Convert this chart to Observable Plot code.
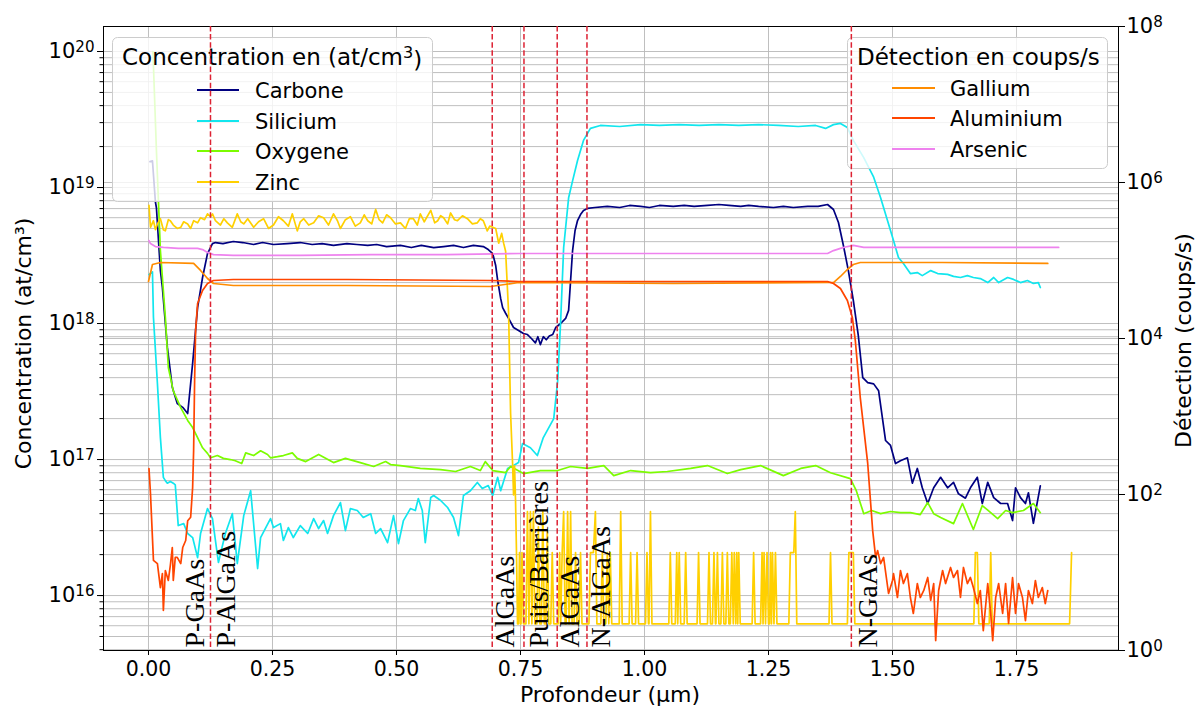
<!DOCTYPE html>
<html>
<head>
<meta charset="utf-8">
<script src="https://cdn.jsdelivr.net/npm/d3@7"></script>
<script src="https://cdn.jsdelivr.net/npm/@observablehq/plot@0.6"></script>
<style>
html,body{margin:0;padding:0;background:#fff;}
#chart{position:relative;width:1198px;height:707px;overflow:hidden;background:#fff;}
#chart > svg{position:absolute;left:0;top:0;}
</style>
</head>
<body>
<div id="chart"></div>
<script>
// ---------------- DATA ----------------
const xTicks = [0, 0.25, 0.5, 0.75, 1.0, 1.25, 1.5, 1.75];
const leftTicks = [1e16, 1e17, 1e18, 1e19, 1e20];
const rightTicks = [1, 1e2, 1e4, 1e6, 1e8];
const rightGrid = [1e2, 1e4, 1e6];

const layerBounds = [0.125, 0.693, 0.757, 0.824, 0.884, 1.417];
const layerNames = ["P-GaAs", "P-AlGaAs", "AlGaAs", "Puits/Barrières", "AlGaAs", "N-AlGaAs", "N-GaAs"];
const layerNameX = [0.071, 0.135, 0.696, 0.766, 0.827, 0.891, 1.429];

const leftNames = ["Carbone", "Silicium", "Oxygene", "Zinc"];
const rightNames = ["Gallium", "Aluminium", "Arsenic"];

const carbone = [
[0.003,1.55e19],[0.008,1.57e19],[0.014,7.8e18],[0.016,7.1e18],[0.024,2.45e18],[0.028,1.84e18],[0.038,6.7e17],[0.048,3.4e17],[0.058,2.58e17],[0.069,2.42e17],[0.079,2.18e17],[0.089,5.1e17],[0.099,1.31e18],[0.109,2.18e18],[0.119,3.27e18],[0.129,3.87e18],
[0.135,3.94e18],[0.150,3.87e18],[0.171,4.01e18],[0.190,3.94e18],[0.212,3.81e18],[0.230,3.94e18],[0.252,3.81e18],[0.280,3.87e18],[0.306,3.94e18],[0.330,3.81e18],[0.350,3.87e18],[0.373,3.75e18],[0.400,3.87e18],[0.420,3.81e18],[0.442,3.75e18],[0.460,3.81e18],[0.480,3.68e18],[0.508,3.75e18],[0.530,3.62e18],[0.550,3.75e18],[0.575,3.62e18],[0.595,3.68e18],[0.615,3.75e18],[0.635,3.62e18],[0.655,3.75e18],[0.675,3.68e18],[0.685,3.5e18],
[0.694,3.27e18],[0.700,2.67e18],[0.704,2.07e18],[0.710,1.53e18],[0.714,1.31e18],[0.720,1.19e18],[0.726,1.09e18],[0.736,9.35e17],[0.746,8.9e17],[0.756,8.44e17],[0.764,8.3e17],[0.772,7.76e17],[0.780,7.2e17],[0.785,8.0e17],[0.790,7.0e17],[0.796,8.0e17],[0.802,7.6e17],[0.808,8.1e17],[0.815,8.3e17],[0.821,9.35e17],[0.831,1.0e18],[0.841,1.09e18],[0.847,1.25e18],[0.851,2.07e18],[0.855,3.44e18],[0.860,4.83e18],[0.865,5.72e18],[0.871,6.33e18],[0.877,6.78e18],[0.885,7.02e18],[0.900,7.13e18],
[0.925,7.26e18],[0.950,7.13e18],[0.970,7.38e18],[0.992,7.26e18],[1.010,7.13e18],[1.030,7.38e18],[1.058,7.26e18],[1.080,7.38e18],[1.100,7.26e18],[1.127,7.38e18],[1.150,7.5e18],[1.170,7.38e18],[1.194,7.26e18],[1.210,7.38e18],[1.230,7.26e18],[1.260,7.13e18],[1.280,7.26e18],[1.300,7.13e18],[1.329,7.26e18],[1.350,7.26e18],[1.369,7.5e18],
[1.381,6.89e18],[1.391,5.53e18],[1.401,3.75e18],[1.411,2.45e18],[1.421,1.48e18],[1.431,8.17e17],[1.440,4.0e17],[1.450,3.68e17],[1.462,3.6e17],[1.472,3.2e17],[1.486,1.38e17],[1.496,1.27e17],[1.506,9.35e16],[1.516,9.8e16],[1.530,1.03e17],[1.540,6.7e16],[1.550,8.6e16],[1.560,6.2e16],[1.571,4.75e16],[1.583,6.2e16],[1.597,7.4e16],[1.611,6.2e16],[1.623,6.8e16],[1.633,5.6e16],[1.647,5.2e16],[1.657,6.2e16],[1.671,7.4e16],[1.681,4.75e16],[1.692,6.8e16],[1.704,5.25e16],[1.718,4.75e16],[1.732,4.75e16],[1.742,3.56e16],[1.748,6.2e16],[1.758,5.25e16],[1.768,4.75e16],[1.774,5.7e16],[1.784,3.4e16],[1.798,6.4e16]
];

const silicium = [
[0.001,2.29e18],[0.008,2.4e18],[0.010,1.11e18],[0.018,3.62e17],[0.024,1.45e17],[0.030,7.4e16],[0.034,7.0e16],[0.038,6.7e16],[0.044,6.9e16],[0.050,6.7e16],[0.054,6.5e16],[0.060,3.27e16],[0.071,3.38e16],[0.079,2.86e16],[0.089,2.67e16],[0.099,1.9e16],[0.105,2.86e16],[0.119,4.36e16],[0.129,3.68e16],[0.141,1.75e16],[0.155,2.86e16],[0.169,4.0e16],[0.179,1.72e16],[0.192,3.87e16],[0.206,5.9e16],[0.220,1.58e16],[0.226,2.67e16],[0.246,3.68e16],[0.252,3.16e16],[0.266,3.38e16],[0.272,2.54e16],[0.282,3.16e16],[0.292,2.67e16],[0.306,3.27e16],[0.321,2.86e16],[0.333,3.68e16],[0.343,3.11e16],[0.353,3.56e16],[0.361,2.86e16],[0.373,3.87e16],[0.387,4.83e16],[0.397,3.0e16],[0.407,4.36e16],[0.421,4.22e16],[0.433,3.75e16],[0.448,4.0e16],[0.458,2.86e16],[0.468,3.11e16],[0.482,2.45e16],[0.494,3.87e16],[0.504,2.41e16],[0.514,3.56e16],[0.528,4.36e16],[0.538,4.22e16],[0.544,5.17e16],[0.552,4.22e16],[0.558,2.45e16],[0.569,5.26e16],[0.575,5.44e16],[0.589,5.0e16],[0.603,4.44e16],[0.615,3.75e16],[0.625,2.76e16],[0.635,5.44e16],[0.649,5.9e16],[0.663,6.78e16],[0.673,6.12e16],[0.685,6.44e16],[0.694,5.44e16],[0.704,7.4e16],[0.710,5.9e16],[0.724,8.6e16],[0.736,9.03e16],[0.746,9.5e16],[0.754,1.31e17],[0.770,1.22e17],[0.784,1.07e17],[0.796,1.45e17],[0.817,2.0e17],[0.825,3.81e17],[0.831,1.05e18],[0.837,3.62e18],[0.847,8.4e18],[0.855,1.12e19],[0.865,1.58e19],[0.877,2.22e19],[0.891,2.72e19],[0.911,2.86e19],[0.950,2.81e19],[0.992,2.9e19],[1.030,2.86e19],[1.070,2.9e19],[1.110,2.86e19],[1.150,2.9e19],[1.190,2.86e19],[1.230,2.9e19],[1.270,2.86e19],[1.310,2.81e19],[1.345,2.86e19],[1.365,2.72e19],[1.381,2.9e19],[1.395,2.96e19],[1.409,2.76e19],[1.421,2.22e19],[1.442,1.66e19],[1.462,1.19e19],[1.476,8.4e18],[1.490,5.7e18],[1.502,4.07e18],[1.512,3.06e18],[1.522,2.76e18],[1.536,2.33e18],[1.550,2.37e18],[1.560,2.25e18],[1.577,2.45e18],[1.591,2.33e18],[1.611,2.3e18],[1.623,2.22e18],[1.637,2.18e18],[1.651,2.25e18],[1.663,2.18e18],[1.677,2.14e18],[1.692,2.0e18],[1.704,2.18e18],[1.714,2.0e18],[1.732,2.18e18],[1.744,2.11e18],[1.758,2.0e18],[1.772,2.07e18],[1.784,1.97e18],[1.794,2.0e18],[1.798,1.84e18]
];

const oxygene = [
[0.009,1.0e20],[0.016,1.87e19],[0.020,8.0e18],[0.024,3.44e18],[0.034,1.11e18],[0.040,4.75e17],[0.050,3.2e17],[0.065,2.41e17],[0.079,1.94e17],[0.089,1.72e17],[0.099,1.45e17],[0.109,1.22e17],[0.119,1.11e17],[0.125,1.03e17],[0.139,1.07e17],[0.151,1.02e17],[0.165,1.0e17],[0.175,9.8e16],[0.188,9.35e16],[0.196,1.12e17],[0.212,1.07e17],[0.226,1.16e17],[0.240,1.09e17],[0.246,1.03e17],[0.260,1.05e17],[0.272,1.07e17],[0.290,1.12e17],[0.300,1.02e17],[0.317,9.66e16],[0.343,1.09e17],[0.373,9.5e16],[0.397,1.02e17],[0.427,9.5e16],[0.454,8.89e16],[0.478,9.66e16],[0.488,9.18e16],[0.508,9.03e16],[0.548,8.6e16],[0.589,8.43e16],[0.619,8.17e16],[0.649,8.89e16],[0.669,8.3e16],[0.679,9.66e16],[0.694,8.3e16],[0.720,8.02e16],[0.730,8.89e16],[0.756,7.89e16],[0.790,8.3e16],[0.825,8.3e16],[0.851,8.89e16],[0.885,8.6e16],[0.918,9.03e16],[0.938,7.62e16],[0.972,8.3e16],[1.012,8.02e16],[1.046,8.17e16],[1.093,8.6e16],[1.127,9.03e16],[1.167,7.89e16],[1.194,8.43e16],[1.234,9.03e16],[1.280,7.62e16],[1.315,8.6e16],[1.345,9.03e16],[1.375,8.0e16],[1.415,7.24e16],[1.427,5.9e16],[1.442,4.0e16],[1.458,4.22e16],[1.476,4.0e16],[1.496,4.15e16],[1.516,4.07e16],[1.536,4.07e16],[1.556,3.94e16],[1.571,4.83e16],[1.583,4.0e16],[1.597,3.75e16],[1.623,3.38e16],[1.641,4.75e16],[1.663,3.06e16],[1.681,4.59e16],[1.698,4.07e16],[1.712,3.68e16],[1.728,4.22e16],[1.742,4.07e16],[1.764,4.22e16],[1.784,4.75e16],[1.798,4.07e16]
];

const zinc = [
[0.001,7.4e18],[0.004,5.1e18],[0.010,5.7e18],[0.014,4.9e18],[0.018,5.4e18],[0.024,5.9e18],[0.030,4.9e18],[0.034,4.8e18],[0.040,5.8e18],[0.044,5.7e18],[0.050,5.3e18],[0.058,5.0e18],[0.065,5.1e18],[0.071,5.6e18],[0.079,5.4e18],[0.085,5.0e18],[0.091,5.7e18],[0.099,5.5e18],[0.105,6.0e18],[0.113,5.8e18],[0.119,6.4e18],[0.125,6.1e18],[0.129,6.4e18],[0.135,5.7e18],[0.145,5.3e18],[0.152,5.9e18],[0.159,5.5e18],[0.169,5.1e18],[0.179,6.4e18],[0.186,5.6e18],[0.192,5.4e18],[0.200,5.9e18],[0.212,5.1e18],[0.222,5.6e18],[0.232,5.9e18],[0.242,5.0e18],[0.252,5.3e18],[0.262,6.1e18],[0.272,5.7e18],[0.282,5.2e18],[0.290,6.4e18],[0.300,4.8e18],[0.306,5.6e18],[0.313,5.9e18],[0.323,5.3e18],[0.333,5.5e18],[0.343,6.2e18],[0.353,6.0e18],[0.363,5.3e18],[0.373,6.4e18],[0.381,5.7e18],[0.387,5.0e18],[0.397,5.8e18],[0.407,6.1e18],[0.417,5.2e18],[0.427,5.5e18],[0.435,6.3e18],[0.442,5.7e18],[0.450,5.4e18],[0.458,6.9e18],[0.465,5.8e18],[0.472,5.5e18],[0.480,6.3e18],[0.488,6.0e18],[0.498,5.4e18],[0.508,5.5e18],[0.518,5.0e18],[0.526,5.9e18],[0.534,5.9e18],[0.542,5.3e18],[0.548,6.4e18],[0.556,5.6e18],[0.569,6.8e18],[0.577,5.5e18],[0.583,5.7e18],[0.589,6.2e18],[0.595,6.0e18],[0.603,5.4e18],[0.609,6.5e18],[0.617,5.8e18],[0.623,5.7e18],[0.633,6.2e18],[0.643,5.9e18],[0.653,5.4e18],[0.663,5.5e18],[0.669,5.9e18],[0.675,5.7e18],[0.683,4.8e18],[0.688,5.2e18],[0.694,5.1e18],[0.700,5.0e18],[0.706,3.9e18],[0.712,4.6e18],[0.716,3.9e18],[0.720,3.4e18],[0.726,1.2e18],[0.730,2.2e17],[0.734,9.4e16],[0.736,5.5e16],[0.738,9.0e16],[0.740,5.0e16],[0.742,2.0e16],[0.744,6.2e15],
[0.746,6.2e15],[0.748,2.07e16],[0.750,6.2e15],[0.751,6.2e15],[0.753,2.07e16],[0.756,6.2e15],[0.761,6.2e15],[0.764,4.15e16],[0.767,6.2e15],[0.770,4.15e16],[0.773,6.2e15],[0.776,4.15e16],[0.779,6.2e15],[0.783,6.2e15],[0.786,3.2e16],[0.789,6.2e15],[0.792,6.2e15],[0.795,4.15e16],[0.798,6.2e15],[0.801,6.2e15],[0.804,3.0e16],[0.807,6.2e15],[0.811,6.2e15],[0.814,2.07e16],[0.817,6.2e15],[0.826,6.2e15],[0.829,2.07e16],[0.831,6.2e15],[0.834,2.07e16],[0.837,4.15e16],[0.840,6.2e15],[0.842,6.2e15],[0.845,4.15e16],[0.848,6.2e15],[0.851,4.15e16],[0.854,6.2e15],[0.858,6.2e15],[0.861,2.07e16],[0.864,6.2e15],[0.868,6.2e15],[0.871,2.07e16],[0.874,6.2e15],[0.888,6.2e15],[0.891,2.07e16],[0.897,2.07e16],[0.901,4.15e16],[0.904,6.2e15],[0.912,6.2e15],[0.915,2.07e16],[0.918,6.2e15],[0.922,6.2e15],[0.925,2.07e16],[0.928,6.2e15],[0.931,2.07e16],[0.934,6.2e15],[0.949,6.2e15],[0.952,4.15e16],[0.955,6.2e15],[0.969,6.2e15],[0.972,2.07e16],[0.975,6.2e15],[0.982,6.2e15],[0.985,2.07e16],[0.988,6.2e15],[1.002,6.2e15],[1.005,2.07e16],[1.008,6.2e15],[1.009,6.2e15],[1.012,4.15e16],[1.015,6.2e15],[1.049,6.2e15],[1.052,2.07e16],[1.055,6.2e15],[1.062,6.2e15],[1.065,2.07e16],[1.067,6.2e15],[1.070,2.07e16],[1.073,6.2e15],[1.080,6.2e15],[1.083,2.07e16],[1.086,6.2e15],[1.106,6.2e15],[1.109,2.07e16],[1.112,6.2e15],[1.127,6.2e15],[1.130,2.07e16],[1.133,6.2e15],[1.137,6.2e15],[1.140,2.07e16],[1.143,6.2e15],[1.144,6.2e15],[1.147,2.07e16],[1.150,6.2e15],[1.154,6.2e15],[1.157,2.07e16],[1.160,6.2e15],[1.164,6.2e15],[1.167,2.07e16],[1.170,6.2e15],[1.173,6.2e15],[1.176,2.07e16],[1.179,6.2e15],[1.181,2.07e16],[1.184,6.2e15],[1.186,2.07e16],[1.188,6.2e15],[1.190,2.07e16],[1.193,6.2e15],[1.217,6.2e15],[1.220,2.07e16],[1.223,6.2e15],[1.234,6.2e15],[1.237,2.07e16],[1.239,6.2e15],[1.241,2.07e16],[1.244,6.2e15],[1.247,2.07e16],[1.250,6.2e15],[1.252,6.2e15],[1.254,2.07e16],[1.256,6.2e15],[1.258,2.07e16],[1.261,6.2e15],[1.264,2.07e16],[1.267,6.2e15],[1.291,6.2e15],[1.294,2.07e16],[1.301,2.07e16],[1.304,4.15e16],[1.307,6.2e15],[1.372,6.2e15],[1.375,2.07e16],[1.378,6.2e15],[1.409,6.2e15],[1.412,2.07e16],[1.421,2.07e16],[1.424,6.2e15],[1.664,6.2e15],[1.667,2.07e16],[1.671,2.07e16],[1.674,6.2e15],[1.695,6.2e15],[1.698,2.07e16],[1.701,6.2e15],[1.857,6.2e15],[1.861,2.07e16]
];

const gallium = [
[0.000,5.38e4],[0.008,8.89e4],[0.024,9.43e4],[0.091,9.16e4],[0.105,7.45e4],[0.119,5.88e4],[0.131,5.07e4],[0.171,4.78e4],[0.400,4.78e4],[0.690,4.64e4],[0.746,5.22e4],[1.058,5.07e4],[1.369,5.22e4],[1.381,5.22e4],[1.395,6.24e4],[1.409,7.67e4],[1.421,8.89e4],[1.435,9.43e4],[1.600,9.43e4],[1.813,9.16e4]
];

const aluminium = [
[0.001,215],[0.004,103],[0.010,14.3],[0.018,13.0],[0.024,6.4],[0.028,9.7],[0.030,3.26],[0.034,10.6],[0.040,7.9],[0.044,12.3],[0.048,20.9],[0.050,7.9],[0.054,15.6],[0.058,15.6],[0.065,13.0],[0.069,20.9],[0.075,25.7],[0.079,46],[0.085,51],[0.089,123],[0.091,367],[0.093,2900],[0.095,1.27e4],[0.099,2.81e4],[0.109,4.12e4],[0.119,5.07e4],[0.131,5.54e4],[0.171,5.71e4],[0.400,5.71e4],[0.690,5.54e4],[0.746,5.38e4],[1.058,5.38e4],[1.369,5.38e4],[1.381,5.07e4],[1.395,4.37e4],[1.409,3.07e4],[1.419,1.86e4],[1.425,9430],[1.435,1750],[1.450,250],[1.460,34.5],[1.466,15.6],
[1.470,19.1],[1.476,13.0],[1.482,15.6],[1.492,5.38],[1.500,7.9],[1.502,9.7],[1.510,4.78],[1.516,10.6],[1.522,7.22],[1.530,9.7],[1.536,4.78],[1.542,2.98],[1.550,7.22],[1.556,4.78],[1.563,5.88],[1.571,8.63],[1.577,4.38],[1.583,7.22],[1.587,1.34],[1.593,5.88],[1.601,10.6],[1.607,7.22],[1.617,11.6],[1.623,8.63],[1.631,10.6],[1.637,4.78],[1.643,11.6],[1.651,7.22],[1.657,8.63],[1.663,6.42],[1.671,4.0],[1.677,5.88],[1.683,1.8],[1.692,7.22],[1.698,2.98],[1.702,1.34],[1.708,4.78],[1.714,7.22],[1.722,2.98],[1.728,7.22],[1.734,2.22],[1.742,8.63],[1.748,2.98],[1.754,7.22],[1.762,4.78],[1.768,2.42],[1.774,5.88],[1.782,4.0],[1.788,7.9],[1.794,4.78],[1.802,6.42],[1.808,4.0],[1.813,5.88]
];

const arsenic = [
[0.001,1.8e5],[0.004,1.65e5],[0.014,1.51e5],[0.030,1.47e5],[0.060,1.43e5],[0.099,1.43e5],[0.109,1.38e5],[0.119,1.27e5],[0.131,1.19e5],[0.171,1.16e5],[0.306,1.16e5],[0.450,1.19e5],[0.600,1.19e5],[0.750,1.23e5],[0.900,1.23e5],[1.050,1.23e5],[1.200,1.23e5],[1.369,1.23e5],[1.381,1.34e5],[1.395,1.43e5],[1.409,1.51e5],[1.421,1.56e5],[1.442,1.47e5],[1.600,1.47e5],[1.835,1.47e5]
];

// ---------------- STYLE / LAYOUT ----------------
const W = 1198, H = 707;
const M = {marginLeft: 103, marginRight: 80, marginTop: 26, marginBottom: 57};
const xDomain = [-0.0907, 1.9556];
const leftDomain = [3.945e15, 1.527e20];
const rightDomain = [1, 1e8];
const leftColors = ["#000080", "#12e6ee", "#7cfc00", "#ffd000"];
const rightColors = ["#ff8c00", "#ff4500", "#ee82ee"];
const gridColor = "#b8b8b8";
const dashColor = "#dd2233";
const font = "DejaVu Sans";

const leftMinor = [];
for (let e = 15; e <= 20; e++) for (let k = 1; k <= 9; k++) {
  const v = k * Math.pow(10, e);
  if (v >= leftDomain[0] && v <= leftDomain[1]) leftMinor.push(v);
}

const expFmt = d => "10^" + Math.round(Math.log10(d));

function supify(svg) {
  d3.select(svg).selectAll('g[aria-label="y-axis tick label"] text').each(function () {
    const m = this.textContent.match(/^10\^(-?\d+)$/);
    if (!m) return;
    const s = d3.select(this);
    s.text("10");
    s.append("tspan").attr("dy", "-0.42em").attr("font-size", "0.72em").text(m[1]);
  });
}

const leftSeries = [carbone, silicium, oxygene, zinc];
const rightSeries = [gallium, aluminium, arsenic];

// bottom layer: grid of the right-hand axis (kept under everything)
const p0 = Plot.plot({
  width: W, height: H, ...M,
  style: {fontFamily: font, fontSize: "21px", color: "#000", background: "#fff"},
  x: {domain: xDomain, axis: null},
  y: {type: "log", domain: rightDomain, axis: null},
  marks: [
    Plot.ruleY(rightGrid, {stroke: gridColor, strokeWidth: 0.9})
  ]
});

const p1 = Plot.plot({
  width: W, height: H, ...M,
  style: {fontFamily: font, fontSize: "21px", color: "#000", background: "transparent"},
  x: {domain: xDomain},
  y: {type: "log", domain: leftDomain},
  marks: [
    Plot.ruleX(xTicks, {stroke: gridColor, strokeWidth: 0.9}),
    Plot.ruleY(leftMinor, {stroke: gridColor, strokeWidth: 0.9}),
    ...leftSeries.map((s, i) => Plot.line(s, {x: d => d[0], y: d => d[1], stroke: leftColors[i], strokeWidth: 1.7, clip: true})),
    Plot.frame({stroke: "#000", strokeWidth: 1}),
    Plot.axisX(xTicks, {tickSize: 5, tickPadding: 6, tickFormat: d3.format(".2f"), label: null, fontSize: 20.5}),
    Plot.axisY(leftMinor, {tickSize: 3.5, tickFormat: () => "", label: null}),
    Plot.axisY(leftTicks, {tickSize: 6, tickPadding: 3, tickFormat: expFmt, label: null}),
    Plot.text(["Profondeur (µm)"], {text: d => d, frameAnchor: "bottom", lineAnchor: "middle", textAnchor: "middle", dy: 44, dx: -1, fontSize: 22}),
    Plot.text(["Concentration (at/cm³)"], {text: d => d, frameAnchor: "left", lineAnchor: "middle", textAnchor: "middle", dx: -80, dy: 5, rotate: -90, fontSize: 22})
  ]
});
supify(p1);

const p2 = Plot.plot({
  width: W, height: H, ...M,
  style: {fontFamily: font, fontSize: "21px", color: "#000", background: "transparent"},
  x: {domain: xDomain, axis: null},
  y: {type: "log", domain: rightDomain},
  marks: [
    ...rightSeries.map((s, i) => Plot.line(s, {x: d => d[0], y: d => d[1], stroke: rightColors[i], strokeWidth: 1.7, clip: true})),
    Plot.ruleX(layerBounds, {stroke: dashColor, strokeWidth: 1.5, strokeDasharray: "5.5,2.6"}),
    Plot.text(layerNames, {text: d => d, x: (d, i) => layerNameX[i], frameAnchor: "bottom", dy: -3, rotate: -90, textAnchor: "start", lineAnchor: "top", fontFamily: "Liberation Serif", fontSize: 28, fill: "#000"}),
    Plot.axisY(rightTicks, {anchor: "right", tickSize: 6, tickPadding: 2, tickFormat: expFmt, label: null}),
    Plot.text(["Détection (coups/s)"], {text: d => d, frameAnchor: "right", lineAnchor: "middle", textAnchor: "middle", dx: 65, dy: 2, rotate: -90, fontSize: 22})
  ]
});
supify(p2);

// ---------------- LEGENDS ----------------
function makeLegend(box, title, titleSup, titleEnd, titlePos, names, colors, rowsY, lineX, textX) {
  const svg = d3.create("svg").attr("width", W).attr("height", H)
    .style("font-family", font).style("pointer-events", "none");
  svg.append("rect").attr("x", box[0] + 0.5).attr("y", box[1] + 0.5).attr("width", box[2]).attr("height", box[3])
    .attr("rx", 5).attr("fill", "rgba(255,255,255,0.8)").attr("stroke", "#cccccc").attr("stroke-width", 1);
  const t = svg.append("text").attr("x", titlePos[0]).attr("y", titlePos[1]).attr("font-size", 23).attr("fill", "#000").text(title);
  if (titleSup) {
    t.append("tspan").attr("dy", "-0.42em").attr("font-size", "0.7em").text(titleSup);
    t.append("tspan").attr("dy", "0.42em").text(titleEnd);
  }
  names.forEach((n, i) => {
    svg.append("line").attr("x1", lineX[0]).attr("x2", lineX[1]).attr("y1", rowsY[i]).attr("y2", rowsY[i])
      .attr("stroke", colors[i]).attr("stroke-width", 2);
    svg.append("text").attr("x", textX).attr("y", rowsY[i] + 7.5).attr("font-size", 21).attr("fill", "#000").text(n);
  });
  return svg.node();
}

const lg1 = makeLegend([112, 37, 320, 164], "Concentration en (at/cm", "3", ")", [122, 65],
  leftNames, leftColors, [90, 121, 151, 182], [197, 239], 255);
const lg2 = makeLegend([847, 37, 260, 131], "Détection en coups/s", null, null, [857, 64.5],
  rightNames, rightColors, [88, 118, 149], [892, 935], 950);

const chart = document.getElementById("chart");
chart.appendChild(p0);
chart.appendChild(p1);
chart.appendChild(lg1);
chart.appendChild(lg2);
chart.appendChild(p2);
</script>
</body>
</html>
